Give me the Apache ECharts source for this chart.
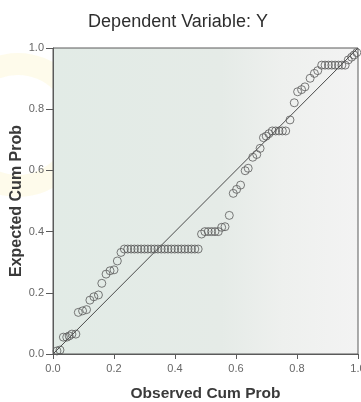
<!DOCTYPE html>
<html>
<head>
<meta charset="utf-8">
<script src="https://cdn.jsdelivr.net/npm/echarts@6/dist/echarts.min.js"></script>
<style>
html,body{margin:0;padding:0;background:#fff;}
#c{width:361px;height:402px;}
</style>
</head>
<body>
<div id="c"></div>
<script>
// Observed cumulative probability (x) and expected cumulative probability (y)
var observed = [
  0.013, 0.023, 0.034, 0.045, 0.053, 0.062, 0.075, 0.083, 0.097, 0.110,
  0.121, 0.134, 0.149, 0.160, 0.174, 0.187, 0.200, 0.211, 0.223,
  0.234, 0.245, 0.256, 0.267, 0.278, 0.289, 0.300, 0.311, 0.322, 0.333,
  0.344, 0.355, 0.366, 0.377, 0.388, 0.399, 0.410, 0.421, 0.432, 0.443,
  0.454, 0.465, 0.476,
  0.487, 0.498, 0.509, 0.520, 0.531, 0.542, 0.553, 0.564, 0.578,
  0.591, 0.602, 0.615, 0.630, 0.640, 0.655, 0.668, 0.679,
  0.690, 0.699, 0.708, 0.719, 0.730, 0.741, 0.752, 0.763,
  0.777, 0.791, 0.802, 0.815, 0.826, 0.843, 0.857, 0.868,
  0.881, 0.892, 0.903, 0.914, 0.925, 0.936, 0.947, 0.958,
  0.968, 0.979, 0.987, 0.996
];
var expected = [
  0.010, 0.013, 0.055, 0.055, 0.059, 0.065, 0.065, 0.136, 0.141, 0.145,
  0.176, 0.187, 0.193, 0.231, 0.261, 0.272, 0.275, 0.304, 0.332,
  0.343, 0.343, 0.343, 0.343, 0.343, 0.343, 0.343, 0.343, 0.343, 0.343,
  0.343, 0.343, 0.343, 0.343, 0.343, 0.343, 0.343, 0.343, 0.343, 0.343,
  0.343, 0.343, 0.343,
  0.392, 0.400, 0.400, 0.400, 0.400, 0.400, 0.414, 0.416, 0.453,
  0.525, 0.538, 0.552, 0.599, 0.607, 0.643, 0.652, 0.672,
  0.707, 0.712, 0.720, 0.729, 0.729, 0.729, 0.729, 0.729,
  0.765, 0.821, 0.857, 0.864, 0.873, 0.901, 0.917, 0.926,
  0.944, 0.944, 0.944, 0.944, 0.944, 0.944, 0.944, 0.944,
  0.961, 0.970, 0.977, 0.985
];
var refLine = [[0, 0], [1, 1]];

var points = observed.map(function (x, i) { return [x, expected[i]]; });

var chart = echarts.init(document.getElementById('c'), null, {renderer: 'canvas'});
var font = 'Liberation Sans, Arial, sans-serif';
chart.setOption({
  animation: false,
  backgroundColor: '#ffffff',
  graphic: [
    {
      type: 'ring', silent: true, z: -10,
      shape: {cx: 18, cy: 125, r: 72, r0: 50},
      style: {fill: 'rgba(252,246,210,0.45)'}
    }
  ],
  title: {
    text: 'Dependent Variable: Y',
    left: 173, top: 8, textAlign: 'center',
    textStyle: {fontFamily: font, fontSize: 18, fontWeight: 'normal', color: '#2e2e2e'}
  },
  grid: {
    left: 53, top: 48, width: 305, height: 306,
    outerBoundsMode: 'none',
    containLabel: false,
    show: true,
    backgroundColor: {
      type: 'linear', x: 0, y: 0, x2: 1, y2: 0,
      colorStops: [
        {offset: 0, color: '#e2ebe6'},
        {offset: 0.55, color: '#e5ebe7'},
        {offset: 0.75, color: '#eef0ee'},
        {offset: 1, color: '#f3f3f3'}
      ]
    },
    borderColor: '#5a5a5a', borderWidth: 1
  },
  xAxis: {
    type: 'value', min: 0, max: 1, interval: 0.2,
    name: 'Observed Cum Prob', nameLocation: 'middle', nameGap: 32,
    nameMoveOverlap: false,
    nameTextStyle: {fontFamily: font, fontSize: 15.5, fontWeight: 'bold', color: '#3a3a3a'},
    axisLine: {show: true, lineStyle: {color: '#5a5a5a'}},
    axisTick: {show: true, length: 5, lineStyle: {color: '#5a5a5a'}},
    axisLabel: {
      fontFamily: font, fontSize: 11, color: '#666', margin: 9,
      formatter: function (v) { return v.toFixed(1); }
    },
    splitLine: {show: false}
  },
  yAxis: {
    type: 'value', min: 0, max: 1, interval: 0.2,
    name: 'Expected Cum Prob', nameLocation: 'middle', nameGap: 28,
    nameMoveOverlap: false,
    nameTextStyle: {fontFamily: font, fontSize: 16, fontWeight: 'bold', color: '#3a3a3a'},
    axisLine: {show: true, lineStyle: {color: '#5a5a5a'}},
    axisTick: {show: true, length: 7, lineStyle: {color: '#5a5a5a'}},
    axisLabel: {
      fontFamily: font, fontSize: 11, color: '#666', margin: 9,
      formatter: function (v) { return v.toFixed(1); }
    },
    splitLine: {show: false}
  },
  series: [
    {
      type: 'line', data: refLine, symbol: 'none', silent: true,
      lineStyle: {color: '#4a4a4a', width: 1}, z: 2
    },
    {
      type: 'scatter', data: points, symbol: 'circle', symbolSize: 8,
      itemStyle: {color: 'rgba(0,0,0,0)', borderColor: '#5a5a5a', borderWidth: 1},
      z: 3
    }
  ]
});
</script>
</body>
</html>
